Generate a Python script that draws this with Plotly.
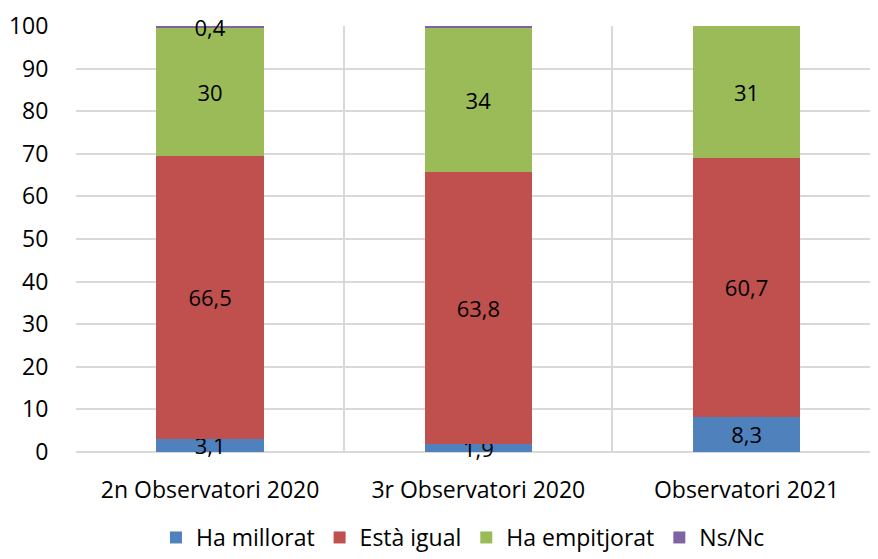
import plotly.graph_objects as go

categories = ["2n Observatori 2020", "3r Observatori 2020", "Observatori 2021"]
series_names = ["Ha millorat", "Està igual", "Ha empitjorat", "Ns/Nc"]
ha_millorat = [3.1, 1.9, 8.3]
esta_igual = [66.5, 63.8, 60.7]
ha_empitjorat = [30, 34, 31]
ns_nc = [0.4, 0.4, None]
colors = ["#4F81BD", "#C0504D", "#9BBB59", "#8064A2"]
y_ticks = list(range(0, 101, 10))

FONT = "Open Sans"


def fmt(v):
    if v is None:
        return ""
    if float(v).is_integer():
        return str(int(v))
    return str(v).replace(".", ",")


fig = go.Figure()
for name, vals, col in zip(series_names, [ha_millorat, esta_igual, ha_empitjorat, ns_nc], colors):
    fig.add_trace(go.Bar(
        name=name,
        x=categories,
        y=vals,
        marker=dict(color=col, line=dict(width=0)),
        width=0.4,
        text=[fmt(v) for v in vals],
        textposition="inside",
        insidetextanchor="middle",
        constraintext="none",
        textangle=0,
        textfont=dict(family=FONT, size=22, color="black"),
        cliponaxis=False,
    ))

fig.update_layout(
    barmode="stack",
    width=870,
    height=551,
    margin=dict(l=68, r=0, t=18, b=107, autoexpand=False),
    paper_bgcolor="white",
    plot_bgcolor="white",
    font=dict(family=FONT, size=22, color="black"),
    showlegend=True,
    legend=dict(
        orientation="h",
        x=0.4825,
        xanchor="center",
        yref="container",
        y=-0.012,
        yanchor="bottom",
        font=dict(family=FONT, size=23, color="black"),
        itemwidth=30,
        traceorder="normal",
    ),
    xaxis=dict(
        type="category",
        range=[-0.5, 2.49],
        tickson="boundaries",
        showgrid=True,
        gridcolor="#D9D9D9",
        gridwidth=1.5,
        showline=False,
        automargin=False,
        ticks="",
        ticklabelstandoff=22,
        tickfont=dict(family=FONT, size=23, color="black"),
    ),
    yaxis=dict(
        range=[0, 100],
        tickvals=y_ticks,
        showgrid=True,
        gridcolor="#D9D9D9",
        gridwidth=1.5,
        zeroline=True,
        zerolinecolor="#D9D9D9",
        zerolinewidth=1.5,
        automargin=False,
        ticks="outside",
        ticklen=22,
        tickcolor="rgba(0,0,0,0)",
        tickfont=dict(family=FONT, size=23, color="black"),
    ),
)

fig.write_html("out.html")
